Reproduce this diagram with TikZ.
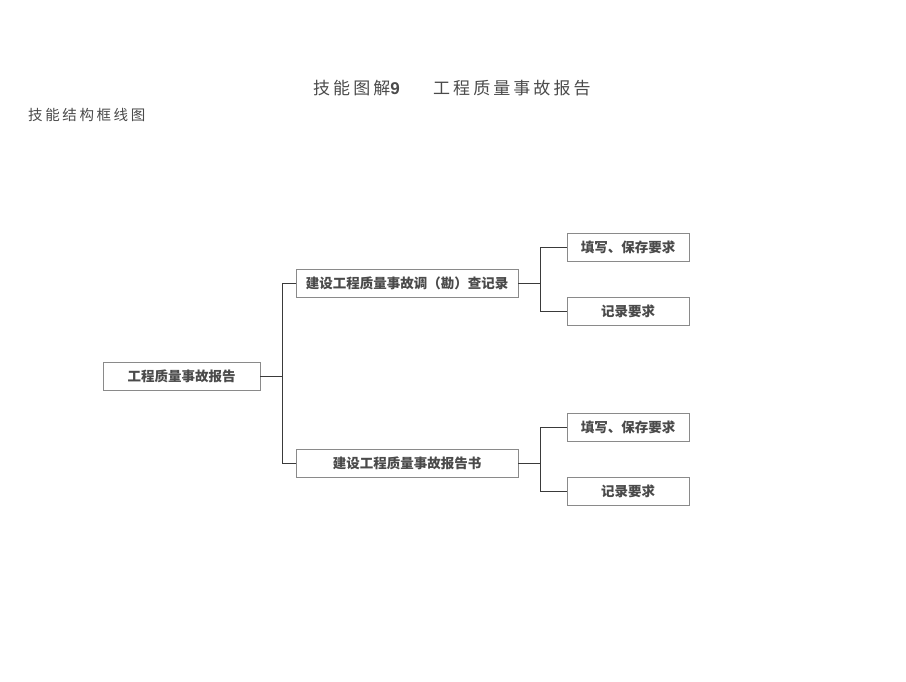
\documentclass[tikz,border=0pt]{standalone}
\usepackage{fontspec}
\newfontfamily\cjk{Noto Sans CJK SC}
\newfontfamily\cjkwide[LetterSpace=18]{Noto Sans CJK SC}
\newfontfamily\latinbold{Liberation Sans}
\definecolor{boxline}{HTML}{8A8A8A}
\definecolor{wireline}{HTML}{3A3A3A}
\definecolor{inkgray}{HTML}{4A4A4A}
\begin{document}
\begin{tikzpicture}[x=1pt,y=-1pt,
  box/.style={draw=boxline, line width=0.9pt, minimum height=28pt, inner sep=0pt,
    text=inkgray, font=\cjk\bfseries\fontsize{13.5}{14}\selectfont},
  rootbox/.style={box, minimum width=157pt},
  midbox/.style={box, minimum width=222pt},
  leafbox/.style={box, minimum width=122pt},
  wire/.style={draw=wireline, line width=1pt}]
\useasboundingbox (0,0) rectangle (906,682);
% titles
\node[text=inkgray, font=\cjkwide\fontsize{17}{18}\selectfont, anchor=west, inner sep=0pt] (title1) at (313,88) {技能图解{\latinbold\bfseries 9}};
\node[text=inkgray, font=\cjkwide\fontsize{17}{18}\selectfont, anchor=west, inner sep=0pt] (title2) at (433,88) {工程质量事故报告};
\node[text=inkgray, font=\cjkwide\fontsize{14.5}{15}\selectfont, anchor=west, inner sep=0pt] (subtitle) at (28,115) {技能结构框线图};
% boxes
\node[rootbox] (root) at (181.5,376) {工程质量事故报告};
\node[midbox] (mid1) at (407,283.5) {建设工程质量事故调（勘）查记录};
\node[midbox] (mid2) at (407,463) {建设工程质量事故报告书};
\node[leafbox] (leaf1a) at (628,247.5) {填写、保存要求};
\node[leafbox] (leaf1b) at (628,311.5) {记录要求};
\node[leafbox] (leaf2a) at (628,427) {填写、保存要求};
\node[leafbox] (leaf2b) at (628,491.5) {记录要求};
% joints
\coordinate (j0) at (282,376);
\coordinate (j1) at (540,283.5);
\coordinate (j2) at (540,463);
\draw[wire] (root.east) -- (j0);
\draw[wire] (j0) |- (mid1.west);
\draw[wire] (j0) |- (mid2.west);
\draw[wire] (mid1.east) -- (j1);
\draw[wire] (j1) |- (leaf1a.west);
\draw[wire] (j1) |- (leaf1b.west);
\draw[wire] (mid2.east) -- (j2);
\draw[wire] (j2) |- (leaf2a.west);
\draw[wire] (j2) |- (leaf2b.west);
\end{tikzpicture}
\end{document}
